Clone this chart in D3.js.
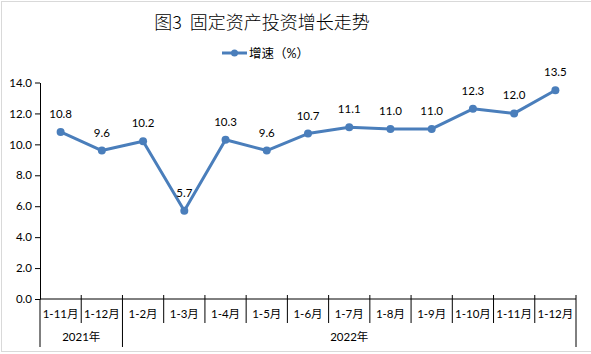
<!DOCTYPE html>
<html>
<head>
<meta charset="utf-8">
<script src="https://cdn.jsdelivr.net/npm/d3@7"></script>
<style>
  body { margin: 0; background: #fff; }
  text { font-family: Lato, "Noto Sans CJK SC", sans-serif; fill: #000; }
</style>
</head>
<body>
<div id="chart"></div>
<script>
// data
const categories = ["1-11月", "1-12月", "1-2月", "1-3月", "1-4月", "1-5月", "1-6月",
                    "1-7月", "1-8月", "1-9月", "1-10月", "1-11月", "1-12月"];
const growth = [10.8, 9.6, 10.2, 5.7, 10.3, 9.6, 10.7, 11.1, 11.0, 11.0, 12.3, 12.0, 13.5];
const yearGroups = [
    { label: "2021年", from: 0, to: 2 },
    { label: "2022年", from: 2, to: 13 }
];
const yTicks = [0, 2, 4, 6, 8, 10, 12, 14];

const width = 591, height = 354;
const blue = "#4a7ebb";

const svg = d3.select("#chart").append("svg")
    .attr("width", width)
    .attr("height", height);

// outer frame
svg.append("rect")
    .attr("x", 1.5).attr("y", 1.5)
    .attr("width", width - 1).attr("height", 350)
    .attr("fill", "#fff")
    .attr("stroke", "#d9d9d9");

// title
svg.append("text")
    .attr("x", 262)
    .attr("y", 29)
    .attr("text-anchor", "middle")
    .style("font-family", "'Noto Sans CJK SC', sans-serif")
    .style("font-size", "18px")
    .style("font-weight", 300)
    .text("图3\u00a0\u00a0固定资产投资增长走势");

// legend
const legend = svg.append("g");
legend.append("line")
    .attr("x1", 222).attr("x2", 247).attr("y1", 53).attr("y2", 53)
    .attr("stroke", blue).attr("stroke-width", 3);
legend.append("circle")
    .attr("cx", 234.5).attr("cy", 53).attr("r", 3.5)
    .attr("fill", blue);
legend.append("text")
    .attr("x", 249).attr("y", 57.5)
    .style("font-size", "12.5px")
    .text("增速（%）");

// scales
const x = d3.scaleBand()
    .domain(d3.range(categories.length))
    .range([40, 576])
    .padding(0);

const y = d3.scaleLinear()
    .domain([0, 14])
    .range([299, 82.5]);

// y axis
const yAxis = svg.append("g")
    .attr("transform", "translate(40,0)")
    .call(d3.axisLeft(y).tickValues(yTicks).tickFormat(d3.format(".1f"))
        .tickSize(5).tickPadding(3).tickSizeOuter(0));
yAxis.select(".domain").attr("stroke", "#000");
yAxis.selectAll(".tick line").attr("stroke", "#000");
yAxis.selectAll("text")
    .style("font-size", "11.5px")
    .style("font-family", "Lato, sans-serif")
    .attr("fill", "#000");

// x axis line
svg.append("line")
    .attr("x1", x.range()[0]).attr("x2", x.range()[1])
    .attr("y1", y(0)).attr("y2", y(0))
    .attr("stroke", "#000");

// category boundaries
const groupEdges = new Set(yearGroups.flatMap(g => [g.from, g.to]));
const edgeX = i => i < categories.length ? x(i) : x.range()[1];
svg.selectAll(".cat-edge")
    .data(d3.range(categories.length + 1))
    .enter()
    .append("line")
    .attr("class", "cat-edge")
    .attr("x1", edgeX)
    .attr("x2", edgeX)
    .attr("y1", i => i === 0 ? y(0) : y(0) - 4)
    .attr("y2", i => groupEdges.has(i) ? 347 : 323)
    .attr("stroke", "#000");

// category labels
svg.selectAll(".cat-label")
    .data(categories)
    .enter()
    .append("text")
    .attr("class", "cat-label")
    .attr("x", (d, i) => x(i) + x.bandwidth() / 2)
    .attr("y", 318)
    .attr("text-anchor", "middle")
    .style("font-size", "11.5px")
    .text(d => d);

// year labels
svg.selectAll(".year-label")
    .data(yearGroups)
    .enter()
    .append("text")
    .attr("class", "year-label")
    .attr("x", d => (edgeX(d.from) + edgeX(d.to)) / 2)
    .attr("y", 341)
    .attr("text-anchor", "middle")
    .style("font-size", "11.5px")
    .text(d => d.label);

// line series
const line = d3.line()
    .x((d, i) => x(i) + x.bandwidth() / 2)
    .y(d => y(d));

svg.append("path")
    .datum(growth)
    .attr("fill", "none")
    .attr("stroke", blue)
    .attr("stroke-width", 3)
    .attr("stroke-linejoin", "round")
    .attr("d", line);

svg.selectAll(".pt")
    .data(growth)
    .enter()
    .append("circle")
    .attr("class", "pt")
    .attr("cx", (d, i) => x(i) + x.bandwidth() / 2)
    .attr("cy", d => y(d))
    .attr("r", 4)
    .attr("fill", blue);

// data labels
svg.selectAll(".val")
    .data(growth)
    .enter()
    .append("text")
    .attr("class", "val")
    .attr("x", (d, i) => x(i) + x.bandwidth() / 2)
    .attr("y", d => y(d) - 14)
    .attr("text-anchor", "middle")
    .style("font-size", "11.5px")
    .text(d => d.toFixed(1));
</script>
</body>
</html>
